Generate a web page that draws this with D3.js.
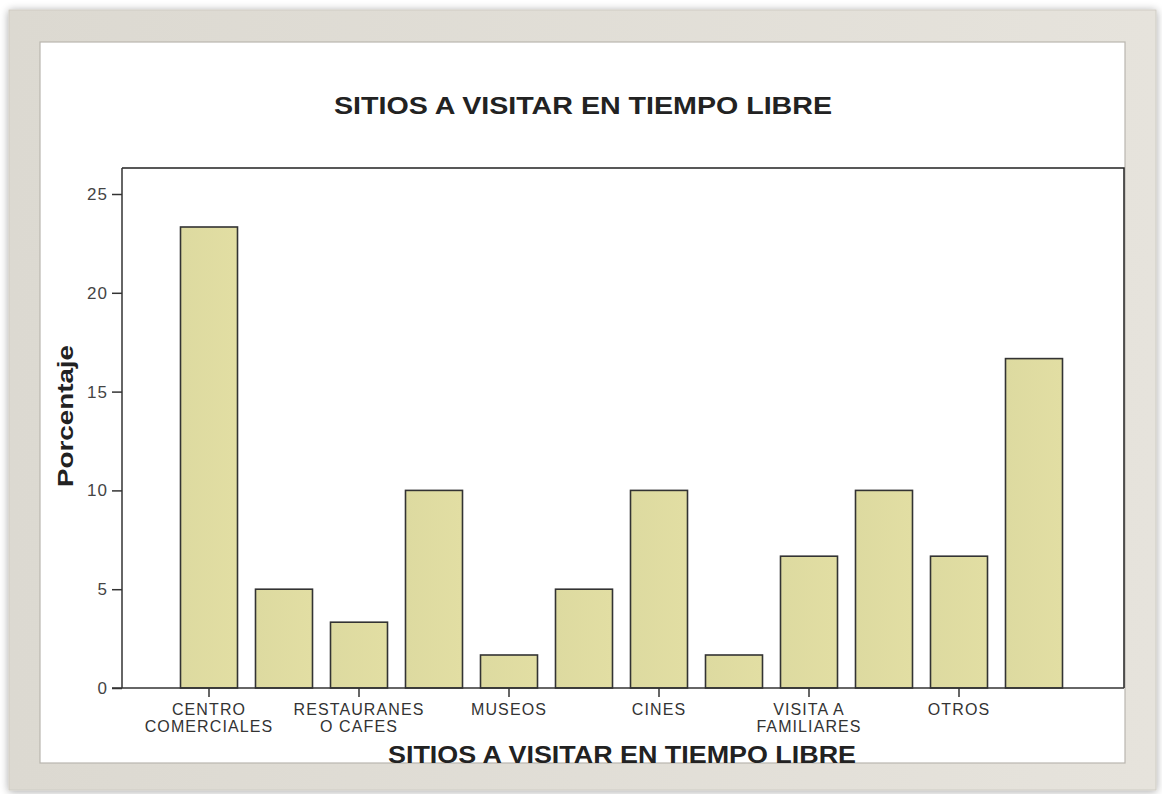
<!DOCTYPE html>
<html>
<head>
<meta charset="utf-8">
<script src="https://cdn.jsdelivr.net/npm/d3@7"></script>
<style>
  body { margin: 0; background: #fff; }
  svg { display: block; font-family: "Liberation Sans", Arial, sans-serif; }
</style>
</head>
<body>
<svg id="chart" width="1162" height="794"></svg>
<script>
// data
var categories = ["CENTRO\nCOMERCIALES", "", "RESTAURANES\nO CAFES", "", "MUSEOS", "",
                  "CINES", "", "VISITA A\nFAMILIARES", "", "OTROS", ""];
var percent = [23.33, 5.0, 3.33, 10.0, 1.67, 5.0, 10.0, 1.67, 6.67, 10.0, 6.67, 16.67];
var yTicks = [0, 5, 10, 15, 20, 25];
var title = "SITIOS A VISITAR EN TIEMPO LIBRE";
var yTitle = "Porcentaje";

var svg = d3.select("#chart");
var defs = svg.append("defs");

// frame shadow
var sh = defs.append("filter").attr("id", "shadow").attr("x", "-5%").attr("y", "-5%")
    .attr("width", "110%").attr("height", "110%");
sh.append("feGaussianBlur").attr("in", "SourceAlpha").attr("stdDeviation", 4);
sh.append("feOffset").attr("dx", 0).attr("dy", 1).attr("result", "b");
sh.append("feComponentTransfer").append("feFuncA").attr("type", "linear").attr("slope", 0.35);
var mg = sh.append("feMerge");
mg.append("feMergeNode");
mg.append("feMergeNode").attr("in", "SourceGraphic");

var gFrame = defs.append("linearGradient").attr("id", "frameGrad")
    .attr("x1", 0).attr("y1", 0).attr("x2", 1).attr("y2", 0);
gFrame.append("stop").attr("offset", 0).attr("stop-color", "#dcd9d1");
gFrame.append("stop").attr("offset", 1).attr("stop-color", "#e6e3dc");

var barGrad = defs.append("linearGradient").attr("id", "barGrad")
    .attr("x1", 0).attr("y1", 0).attr("x2", 1).attr("y2", 0);
barGrad.append("stop").attr("offset", 0).attr("stop-color", "#dddaa0");
barGrad.append("stop").attr("offset", 1).attr("stop-color", "#e2dea3");

defs.append("clipPath").attr("id", "panelClip")
  .append("rect").attr("x", 40).attr("y", 42).attr("width", 1085).attr("height", 721);

// outer frame + white panel
svg.append("rect").attr("x", 9).attr("y", 10).attr("width", 1147).attr("height", 780)
    .attr("fill", "url(#frameGrad)").attr("stroke", "#cfccc4").attr("filter", "url(#shadow)");
svg.append("rect").attr("x", 40).attr("y", 42).attr("width", 1085).attr("height", 721)
    .attr("fill", "#fff").attr("stroke", "#b9b6af").attr("stroke-width", 1.2);

var plot = { left: 122, top: 168, right: 1124, bottom: 688 };

var x = d3.scaleBand()
    .domain(d3.range(percent.length))
    .range([171.5, 1071.5])
    .paddingInner(0.24)
    .paddingOuter(0.12);

var y = d3.scaleLinear()
    .domain([0, 25])
    .range([plot.bottom, 194]);

var g = svg.append("g").attr("clip-path", "url(#panelClip)");

// title
g.append("text")
    .attr("x", 583).attr("y", 114)
    .attr("text-anchor", "middle")
    .attr("font-size", 24).attr("font-weight", "bold")
    .attr("fill", "#222")
    .attr("textLength", 498).attr("lengthAdjust", "spacingAndGlyphs")
    .text(title);

// plot frame (top and right)
g.append("path")
    .attr("d", "M" + plot.left + "," + plot.top + "H" + plot.right + "V" + plot.bottom)
    .attr("fill", "none").attr("stroke", "#222").attr("stroke-width", 1.5);

// bars
g.selectAll("rect.bar").data(percent).enter().append("rect")
    .attr("class", "bar")
    .attr("x", function (d, i) { return x(i); })
    .attr("y", function (d) { return y(d); })
    .attr("width", x.bandwidth())
    .attr("height", function (d) { return y(0) - y(d); })
    .attr("fill", "url(#barGrad)")
    .attr("stroke", "#333").attr("stroke-width", 1.6);

// y axis
var yAxis = d3.axisLeft(y).tickValues(yTicks).tickSize(10).tickPadding(4);
var ya = g.append("g").attr("transform", "translate(" + plot.left + ",0)").call(yAxis);
ya.select(".domain").attr("d", "M0," + plot.top + "V" + plot.bottom)
    .attr("stroke", "#333").attr("stroke-width", 1.5);
ya.selectAll(".tick line").attr("stroke", "#333").attr("stroke-width", 1.5);
ya.selectAll(".tick text").attr("font-size", 17).attr("fill", "#444")
    .attr("letter-spacing", 1)
    .attr("font-family", "Liberation Sans, Arial, sans-serif");

// x axis line
g.append("line")
    .attr("x1", 112).attr("x2", plot.right)
    .attr("y1", plot.bottom).attr("y2", plot.bottom)
    .attr("stroke", "#333").attr("stroke-width", 1.5);

// x ticks + labels
var labelled = d3.range(categories.length).filter(function (i) { return categories[i] !== ""; });
var xt = g.selectAll("g.xtick").data(labelled).enter().append("g")
    .attr("class", "xtick")
    .attr("transform", function (i) { return "translate(" + (x(i) + x.bandwidth() / 2) + "," + plot.bottom + ")"; });
xt.append("line").attr("y1", 0).attr("y2", 9).attr("stroke", "#333").attr("stroke-width", 1.5);
xt.append("text")
    .attr("text-anchor", "middle")
    .attr("font-size", 16).attr("fill", "#333")
    .attr("letter-spacing", 1.1)
    .each(function (i) {
        var lines = categories[i].split("\n");
        var t = d3.select(this);
        lines.forEach(function (l, k) {
            t.append("tspan").attr("x", 0).attr("y", 27 + k * 17).text(l);
        });
    });

// axis titles
g.append("text")
    .attr("transform", "translate(73,416) rotate(-90)")
    .attr("text-anchor", "middle")
    .attr("font-size", 22).attr("font-weight", "bold").attr("fill", "#222")
    .attr("textLength", 142).attr("lengthAdjust", "spacingAndGlyphs")
    .text(yTitle);

g.append("text")
    .attr("x", 622).attr("y", 763)
    .attr("text-anchor", "middle")
    .attr("font-size", 24).attr("font-weight", "bold").attr("fill", "#222")
    .attr("textLength", 468).attr("lengthAdjust", "spacingAndGlyphs")
    .text(title);
</script>
</body>
</html>
